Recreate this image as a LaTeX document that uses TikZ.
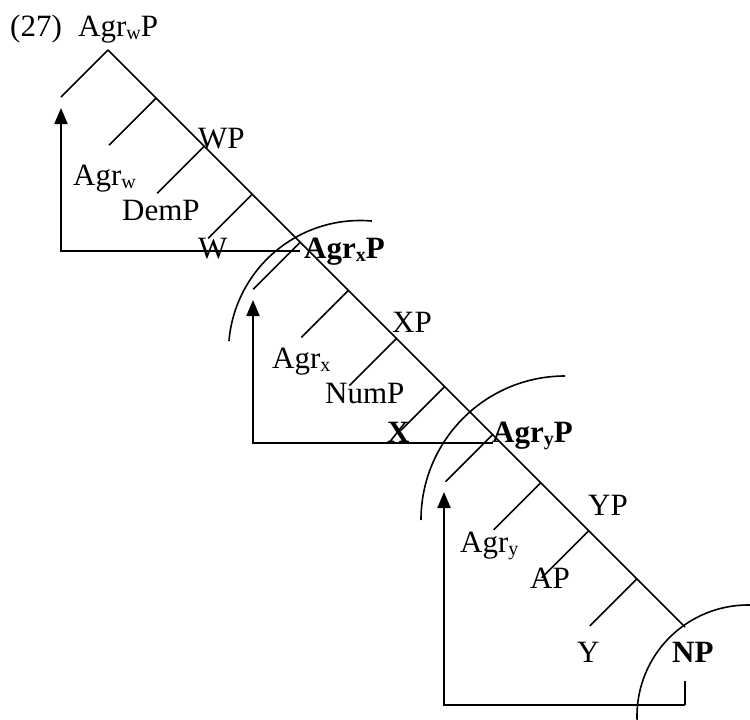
\documentclass[tikz,border=0pt]{standalone}
\usepackage{fontspec}
\setmainfont{Liberation Serif}
\usetikzlibrary{arrows.meta}
\newcommand\sbx[1]{\raisebox{-3pt}{\fontsize{20}{20}\selectfont #1}}
\begin{document}
\begin{tikzpicture}[x=1pt,y=-1pt,
  lbl/.style={anchor=base west,inner sep=0pt,font=\fontsize{31}{31}\selectfont},
  blbl/.style={lbl,font=\fontsize{31}{31}\selectfont\bfseries},
  tree/.style={line width=1.6pt},
  move/.style={line width=2pt,-{Triangle[width=13pt,length=16pt]}},
  ring/.style={line width=1.6pt}]
\useasboundingbox (0,0) rectangle (750,720);
\clip (0,0) rectangle (750,720);
% spine points
\coordinate (s0) at (108,50);
\coordinate (s1) at (156.1,98.1);
\coordinate (s2) at (204.2,146.2);
\coordinate (s3) at (252.2,194.2);
\coordinate (s4) at (300.3,242.3);
\coordinate (s5) at (348.4,290.4);
\coordinate (s6) at (396.5,338.5);
\coordinate (s7) at (444.6,386.6);
\coordinate (s8) at (492.6,434.6);
\coordinate (s9) at (540.7,482.7);
\coordinate (s10) at (588.8,530.8);
\coordinate (s11) at (636.9,578.9);
\coordinate (s12) at (685,627);
% branch ends
\coordinate (l0) at (61,97);
\coordinate (l1) at (109.1,145.1);
\coordinate (l2) at (157.2,193.2);
\coordinate (l3) at (208.2,238.2);
\coordinate (l4) at (253.3,289.3);
\coordinate (l5) at (301.4,337.4);
\coordinate (l6) at (349.5,385.5);
\coordinate (l7) at (400.6,430.6);
\coordinate (l8) at (445.6,481.6);
\coordinate (l9) at (493.7,529.7);
\coordinate (l10) at (541.8,577.8);
\coordinate (l11) at (589.9,625.9);
% movement paths
\coordinate (h1) at (300,251); \coordinate (c1) at (61,251); \coordinate (t1) at (61,108);
\coordinate (h2) at (493,443); \coordinate (c2) at (253,443); \coordinate (t2) at (253,300);
\coordinate (k3) at (685,681); \coordinate (h3) at (685,705); \coordinate (c3) at (444,705); \coordinate (t3) at (444,492);
% arc centres
\coordinate (o1) at (360,352);
\coordinate (o2) at (565,520);
\coordinate (o3) at (748,716);

\draw[tree] (s0) -- (s12);
\foreach \i in {0,...,11} \draw[tree] (s\i) -- (l\i);

\draw[move] (h1) -- (c1) -- (t1);
\draw[move] (h2) -- (c2) -- (t2);
\draw[line width=2pt] (k3) -- (h3);
\draw[move] (h3) -- (c3) -- (t3);

\draw[ring] ([shift={(184.8:131.5)}]o1) arc[start angle=184.8,end angle=275.2,radius=131.5];
\draw[ring] ([shift={(180:144)}]o2) arc[start angle=180,end angle=270,radius=144];
\draw[ring] ([shift={(176:111)}]o3) arc[start angle=176,end angle=274,radius=111];

% labels
\node[lbl] (num) at (10,36) {(27)};
\node[lbl] (agrwp) at (78,36) {Agr\sbx{w}P};
\node[lbl] (wp) at (198,148) {WP};
\node[lbl] (agrw) at (73,185) {Agr\sbx{w}};
\node[lbl] (demp) at (122,220) {DemP};
\node[lbl] (w) at (198,258) {W};
\node[blbl] (agrxp) at (304,258) {Agr\sbx{x}P};
\node[lbl] (xp) at (392,332) {XP};
\node[lbl] (agrx) at (272,368) {Agr\sbx{x}};
\node[lbl] (nump) at (325,403) {NumP};
\node[blbl] (x) at (387,442) {X};
\node[blbl] (agryp) at (492,442) {Agr\sbx{y}P};
\node[lbl] (yp) at (588,515) {YP};
\node[lbl] (agry) at (460,552) {Agr\sbx{y}};
\node[lbl] (ap) at (530,588) {AP};
\node[lbl] (y) at (577,662) {Y};
\node[blbl] (np) at (672,662) {NP};
\end{tikzpicture}
\end{document}
